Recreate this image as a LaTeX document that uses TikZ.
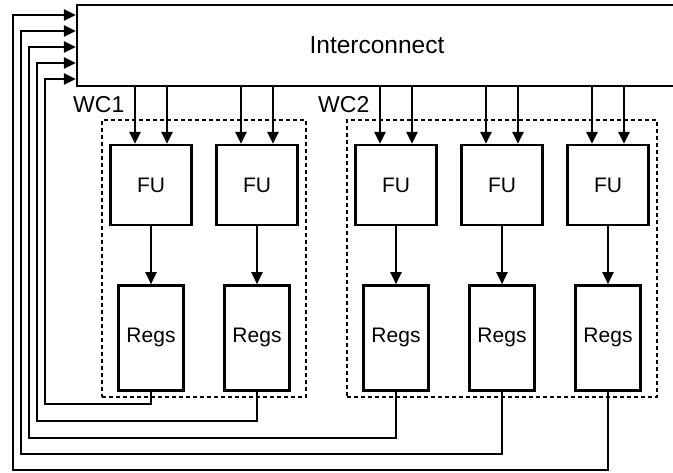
\documentclass[tikz,border=0pt]{standalone}
\usepackage{fontspec}
\setmainfont{Liberation Sans}
\usetikzlibrary{positioning,arrows.meta,calc}
\tikzset{
  x=1pt, y=-1pt,
  >={Triangle[length=12pt,width=11pt]},
  node distance=58pt,
  unitbox/.style={draw,line width=2.4pt,inner sep=0pt,
    font=\fontsize{21}{24}\selectfont},
  fubox/.style={unitbox,minimum width=81pt,minimum height=80pt},
  regbox/.style={unitbox,minimum width=65pt,minimum height=105pt},
  icbox/.style={draw,line width=2.4pt,minimum width=600pt,minimum height=81pt,
    font=\fontsize{24.5}{28}\selectfont},
  wcbox/.style={draw,line width=1.8pt,dash pattern=on 4pt off 3pt,
    minimum height=277pt},
  wclbl/.style={inner sep=0pt,font=\fontsize{23}{26}\selectfont},
  wire/.style={->,line width=2.4pt},
}
\begin{document}
\begin{tikzpicture}
  \useasboundingbox (0,0) rectangle (673,473);
  \node[icbox] (ic) at (377,45.5) {Interconnect};
  % the two working clusters
  \node[wcbox,minimum width=204pt] (wc1) at (204,258.5) {};
  \node[wcbox,minimum width=310pt] (wc2) at (502,258.5) {};
  \node[wclbl,anchor=base west] (wc1lbl) at (73,113) {WC1};
  \node[wclbl,anchor=base west] (wc2lbl) at (318,113) {WC2};
  % functional units with their register files
  \foreach \i/\x in {1/151,2/257,3/396,4/502,5/608}{
    \node[fubox] (fu\i) at (\x,185) {FU};
    \node[regbox,below=of fu\i] (regs\i) {Regs};
    \coordinate (pa\i) at ([xshift=-16pt]fu\i.north);
    \coordinate (pb\i) at ([xshift=16pt]fu\i.north);
    \draw[wire] (pa\i |- ic.south) -- (pa\i);
    \draw[wire] (pb\i |- ic.south) -- (pb\i);
    \draw[wire] (fu\i) -- (regs\i);
  }
  % results fed back into the interconnect
  \foreach \i/\xb/\yb/\ya in {1/45/404/79,2/37/421/63,3/29/438/47,
      4/21/454/31,5/13/470/15}{
    \coordinate (fb\i) at (\xb,\yb);
    \coordinate (in\i) at (ic.west |- 0,\ya);
    \draw[wire] (regs\i.south) |- (fb\i) |- (in\i);
  }
\end{tikzpicture}
\end{document}
